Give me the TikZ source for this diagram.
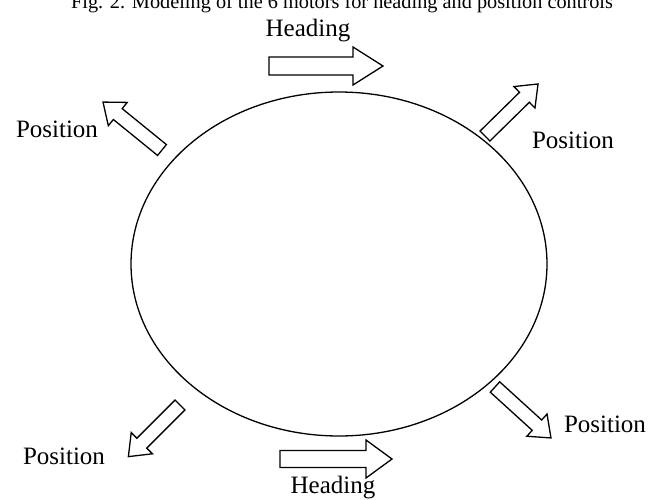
\documentclass[tikz,border=0pt]{standalone}
\usepackage{fontspec}
\setmainfont{Liberation Serif}
\tikzset{
  blockarrow/.style={draw=black, line width=1.3pt, line join=miter, fill=white},
  lbl/.style={font=\fontsize{25}{25}\selectfont, inner sep=0pt, anchor=base},
  ttl/.style={font=\fontsize{20.3}{20.3}\selectfont, inner sep=0pt, anchor=base},
  ring/.style={draw=black, line width=1.3pt}
}
% #1 tail x, #2 tail y, #3 angle, #4 length, #5 shaft half, #6 head half, #7 head length
\newcommand\myarrow[7]{%
  \draw[blockarrow, shift={(#1,#2)}, rotate=#3]
    (0,-#5) -- ({#4-#7},-#5) -- ({#4-#7},-#6) -- (#4,0) -- ({#4-#7},#6) -- ({#4-#7},#5) -- (0,#5) -- cycle;}
\begin{document}
\begin{tikzpicture}[x=1pt,y=-1pt]
\useasboundingbox (0,0) rectangle (665,499);
\node[ttl] (title) at (342,8) {Fig. 2. Modeling of the 6 motors for heading and position controls};
\draw[ring] (339,264) ellipse [x radius=208, y radius=172];
\myarrow{269}{66}{0}{114}{9}{19}{30}
\myarrow{280}{459}{0}{112}{8.5}{19}{26}
\myarrow{162}{150}{140.9}{76}{7}{15}{19}
\myarrow{485}{136}{44.45}{74.3}{7}{15}{19}
\myarrow{180}{405}{225}{73}{7}{15}{19}
\myarrow{495}{387}{-42.3}{75.7}{7}{15}{19}
\node[lbl] (h1) at (308,36) {Heading};
\node[lbl] (h2) at (333,493) {Heading};
\node[lbl] (p1) at (57,137) {Position};
\node[lbl] (p2) at (573,148) {Position};
\node[lbl] (p3) at (64,464) {Position};
\node[lbl] (p4) at (605,432) {Position};
\end{tikzpicture}
\end{document}
